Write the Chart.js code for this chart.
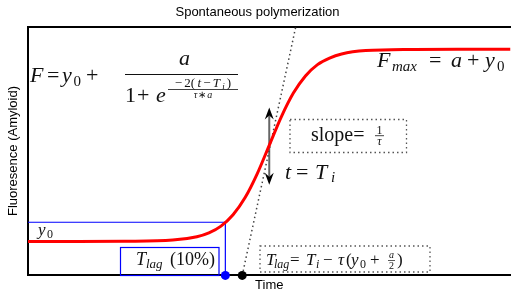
<!DOCTYPE html>
<html>
<head>
<meta charset="utf-8">
<script src="https://cdn.jsdelivr.net/npm/chart.js@4/dist/chart.umd.min.js"></script>
<style>
  body { margin: 0; background: #fff; }
  #wrap { width: 515px; height: 293px; }
</style>
</head>
<body>
<div id="wrap"><canvas id="myChart"></canvas></div>
<script>
// (time 0..10, fluorescence 0..1.1)
var timeX = [0, 1, 2, 3, 3.5, 3.75, 4, 4.25, 4.5, 4.75, 5, 5.25, 5.5, 5.75, 6, 6.25, 6.5, 7, 8, 9, 10];
var fluorY = [0.150, 0.150, 0.151, 0.156, 0.171, 0.188, 0.218, 0.268, 0.344, 0.449, 0.575, 0.701, 0.806, 0.882, 0.932, 0.961, 0.979, 0.994, 0.999, 1.0, 1.0];

var tangentX = [4.44, 5.55];
var tangentY = [0, 1.1];

var lagBoxX = [0, 4.09, 4.09];
var lagBoxY = [0.235, 0.235, 0];

var lagDotX = [4.09];
var tiDotX = [4.44];

var arrowX = 5;
var arrowY = [0.401, 0.742];

var xRange = [0, 10];
var yRange = [0, 1.1];

var SERIF = '"Liberation Serif", serif';

function pts(xs, ys) {
    return xs.map(function (x, i) { return { x: x, y: ys[i] }; });
}

function setFont(ctx, size, italic) {
    ctx.font = (italic ? 'italic ' : '') + size + 'px ' + SERIF;
}

function txt(ctx, s, x, y, size, italic, align) {
    setFont(ctx, size, italic);
    ctx.textAlign = align || 'left';
    ctx.textBaseline = 'alphabetic';
    ctx.fillText(s, x, y);
}

// segs: [text, size, italic, dy]
function run(ctx, segs, x, y, align, gap) {
    gap = gap || 0;
    var w = 0;
    segs.forEach(function (s) { setFont(ctx, s[1], s[2]); w += ctx.measureText(s[0]).width + gap; });
    w -= gap;
    if (align === 'center') x -= w / 2;
    ctx.textAlign = 'left';
    ctx.textBaseline = 'alphabetic';
    segs.forEach(function (s) {
        setFont(ctx, s[1], s[2]);
        ctx.fillText(s[0], x, y + (s[3] || 0));
        x += ctx.measureText(s[0]).width + gap;
    });
}

function hline(ctx, x1, x2, y, w) {
    ctx.beginPath();
    ctx.lineWidth = w;
    ctx.moveTo(x1, y);
    ctx.lineTo(x2, y);
    ctx.stroke();
}

function box(ctx, x1, y1, x2, y2, color, dash) {
    ctx.save();
    ctx.strokeStyle = color;
    ctx.lineWidth = dash ? 1.3 : 1.2;
    ctx.setLineDash(dash || []);
    ctx.strokeRect(x1, y1, x2 - x1, y2 - y1);
    ctx.restore();
}

/* ============================================ arrow at t = Ti */
var arrowPlugin = {
    id: 'arrow',
    beforeDatasetsDraw: function (chart) {
        var ctx = chart.ctx;
        var x = chart.scales.x.getPixelForValue(arrowX);
        var yb = chart.scales.y.getPixelForValue(arrowY[0]);
        var yt = chart.scales.y.getPixelForValue(arrowY[1]);
        ctx.save();
        ctx.strokeStyle = '#666';
        ctx.lineWidth = 2;
        ctx.beginPath();
        ctx.moveTo(x, yt + 8);
        ctx.lineTo(x, yb - 8);
        ctx.stroke();
        ctx.fillStyle = '#000';
        [[yt, 1], [yb, -1]].forEach(function (h) {
            var tip = h[0], d = h[1];
            ctx.beginPath();
            ctx.moveTo(x, tip);
            ctx.lineTo(x - 4.5, tip + d * 12);
            ctx.lineTo(x, tip + d * 8);
            ctx.lineTo(x + 4.5, tip + d * 12);
            ctx.closePath();
            ctx.fill();
        });
        ctx.restore();
    }
};

/* ============================================ math labels */
var labelPlugin = {
    id: 'labels',
    afterDraw: function (chart) {
        var ctx = chart.ctx;
        ctx.save();
        ctx.fillStyle = '#111';
        ctx.strokeStyle = '#111';

        // F = y0 + a / (1 + e^(...))
        txt(ctx, 'F', 30, 81.5, 22, true);
        txt(ctx, '=', 47, 81.5, 22, false);
        txt(ctx, 'y', 62, 81.5, 22, true);
        txt(ctx, '0', 73.5, 85.5, 15, false);
        txt(ctx, '+', 86, 81.5, 22, false);
        hline(ctx, 125, 238, 74.5, 1);
        txt(ctx, 'a', 184.5, 65, 22, true, 'center');
        txt(ctx, '1', 125, 101.5, 22, false);
        txt(ctx, '+', 137, 101.5, 22, false);
        txt(ctx, 'e', 156, 101.5, 22, true);
        run(ctx, [['\u2212', 13, false], ['2(', 13, false], ['t', 13, true], ['\u2212', 13, false], ['T', 13, true], ['i', 9, true, 2.5], [')', 13, false]], 203, 86.5, 'center', 2.2);
        hline(ctx, 168, 238, 89.5, 0.8);
        run(ctx, [['\u03c4', 10, true], ['\u2217', 10, false], ['a', 10, true]], 203, 97.5, 'center', 1);

        // Fmax = a + y0
        txt(ctx, 'F', 377, 66.7, 22, true);
        txt(ctx, 'max', 392, 70.5, 15, true);
        txt(ctx, '=', 429, 66.7, 22, false);
        txt(ctx, 'a', 451, 66.7, 22, true);
        txt(ctx, '+', 467, 66.7, 22, false);
        txt(ctx, 'y', 485, 66.7, 22, true);
        txt(ctx, '0', 497, 70.5, 15, false);

        // slope box
        box(ctx, 290, 119.5, 406.5, 152.5, '#555', [1.5, 3]);
        txt(ctx, 'slope=', 311, 140.7, 20, false);
        txt(ctx, '1', 379.5, 134, 12, false, 'center');
        hline(ctx, 375, 384, 135.7, 0.8);
        txt(ctx, '\u03c4', 379.5, 145, 12, true, 'center');

        // t = Ti
        txt(ctx, 't', 285, 178.5, 22, true);
        txt(ctx, '=', 296, 178.5, 22, false);
        txt(ctx, 'T', 315, 178.5, 22, true);
        txt(ctx, 'i', 331, 182, 15, true);

        // y0
        txt(ctx, 'y', 38, 235, 17, true);
        txt(ctx, '0', 47, 238, 12, false);

        // Tlag (10%)
        box(ctx, 120.5, 247.5, 219, 275.5, '#0000ff');
        txt(ctx, 'T', 136, 265, 18, true);
        txt(ctx, 'lag', 146, 268, 13, true);
        txt(ctx, '(10%)', 170, 265, 18, false);

        // Tlag = Ti - tau(y0 + a/2)
        box(ctx, 260, 246, 430, 272, '#555', [1.5, 3]);
        txt(ctx, 'T', 266, 265, 17, true);
        txt(ctx, 'lag', 274, 268, 12, true);
        txt(ctx, '=', 290, 265, 17, false);
        txt(ctx, 'T', 306, 265, 17, true);
        txt(ctx, 'i', 316, 268, 12, true);
        txt(ctx, '\u2212', 323, 265, 17, false);
        txt(ctx, '\u03c4', 338, 265, 17, true);
        txt(ctx, '(', 346, 265, 17, false);
        txt(ctx, 'y', 351, 265, 17, true);
        txt(ctx, '0', 360, 268, 12, false);
        txt(ctx, '+', 370, 265, 17, false);
        txt(ctx, 'a', 391.5, 258, 10, true, 'center');
        hline(ctx, 388, 395, 260.5, 0.7);
        txt(ctx, '2', 391.5, 269, 10, false, 'center');
        txt(ctx, ')', 397, 265, 17, false);

        ctx.restore();
    }
};

const ctx = document.getElementById('myChart').getContext('2d');
const myChart = new Chart(ctx, {
    type: 'line',
    data: {
        datasets: [{
            data: pts(lagDotX, [0]),
            showLine: false,
            pointRadius: 4.5,
            pointBackgroundColor: '#0000ff',
            pointBorderWidth: 0,
            clip: false,
            order: 0
        }, {
            data: pts(tiDotX, [0]),
            showLine: false,
            pointRadius: 4.5,
            pointBackgroundColor: '#000',
            pointBorderWidth: 0,
            clip: false,
            order: 0
        }, {
            data: pts(timeX, fluorY),
            borderColor: '#ff0000',
            borderWidth: 3,
            pointRadius: 0,
            cubicInterpolationMode: 'monotone',
            order: 1
        }, {
            data: pts(lagBoxX, lagBoxY),
            borderColor: '#0000ff',
            borderWidth: 1.2,
            pointRadius: 0,
            order: 2
        }, {
            data: pts(tangentX, tangentY),
            borderColor: '#444',
            borderWidth: 1.5,
            borderDash: [1.5, 3],
            pointRadius: 0,
            order: 3
        }]
    },
    options: {
        responsive: true,
        maintainAspectRatio: false,
        animation: false,
        events: [],
        layout: { padding: 0 },
        plugins: {
            legend: { display: false },
            tooltip: { enabled: false },
            title: {
                display: true,
                text: 'Spontaneous polymerization',
                color: '#000',
                font: { family: '"Liberation Sans"', size: 13, weight: 'normal' },
                padding: { top: 5, bottom: 6 }
            }
        },
        scales: {
            x: {
                type: 'linear',
                min: xRange[0],
                max: xRange[1],
                grid: { display: false, drawTicks: false },
                ticks: { display: false },
                border: { display: true, color: '#000', width: 2 },
                title: {
                    display: true,
                    text: 'Time',
                    color: '#000',
                    font: { family: '"Liberation Sans"', size: 13 },
                    padding: { top: 2, bottom: 0 }
                }
            },
            x2: {
                type: 'linear',
                position: 'top',
                display: true,
                min: xRange[0],
                max: xRange[1],
                grid: { display: false, drawTicks: false },
                ticks: { display: false },
                border: { display: true, color: '#000', width: 2 }
            },
            y: {
                min: yRange[0],
                max: yRange[1],
                grid: { display: false, drawTicks: false },
                ticks: { display: false },
                border: { display: true, color: '#000', width: 2 },
                title: {
                    display: true,
                    text: 'Fluoresence (Amyloid)',
                    color: '#000',
                    font: { family: '"Liberation Sans"', size: 13 },
                    padding: { top: 6, bottom: 6.4 }
                }
            }
        }
    },
    plugins: [arrowPlugin, labelPlugin]
});

// redraw once the serif faces are ready
Promise.all([
    document.fonts.load('20px "Liberation Serif"'),
    document.fonts.load('italic 20px "Liberation Serif"')
]).then(function () { myChart.draw(); });
</script>
</body>
</html>
